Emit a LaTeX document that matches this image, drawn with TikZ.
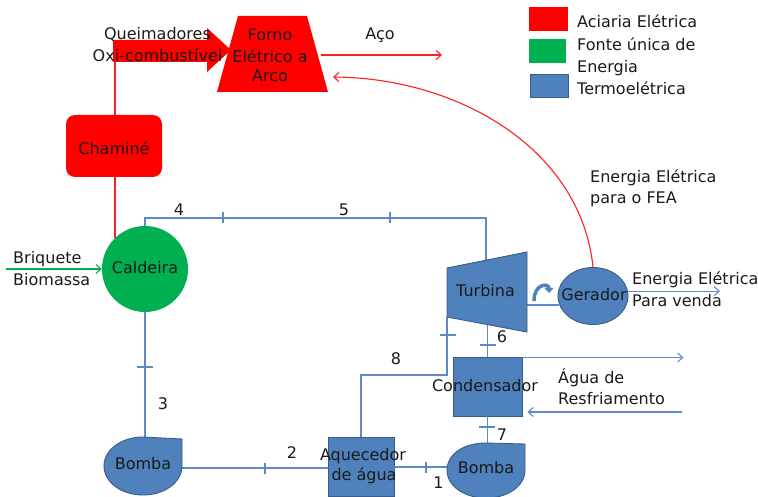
\documentclass[tikz,border=0pt]{standalone}
\usepackage{fontspec}
\setmainfont{DejaVu Sans}
\usetikzlibrary{shapes.geometric,arrows.meta,calc}
\definecolor{redF}{HTML}{FF0000}
\definecolor{greenF}{HTML}{00B050}
\definecolor{blueF}{HTML}{4F81BD}
\definecolor{blueD}{HTML}{385D8A}
\definecolor{lineB}{HTML}{5B8AC6}
\definecolor{lineR}{HTML}{FF2020}
\definecolor{txtC}{HTML}{1A1A1A}
\begin{document}
\begin{tikzpicture}[x=1pt,y=-1pt,
  font=\fontsize{16}{19}\selectfont,
  bline/.style={draw=lineB, line width=1.1pt},
  rline/.style={draw=lineR, line width=1.1pt},
  gline/.style={draw=greenF, line width=1.1pt},
  arrowend/.style={-{Straight Barb[length=5pt,width=9pt]}},
  txt/.style={anchor=base, inner sep=0pt, text=txtC},
  ltxt/.style={anchor=base west, inner sep=0pt, text=txtC},
  bshape/.style={fill=blueF, draw=blueD, line width=0.9pt},
  vtick/.pic={\draw[bline] (0,-5.5) -- (0,5.5);},
  htick/.pic={\draw[bline] (-8,0) -- (8,0);}]
\useasboundingbox (0,0) rectangle (758,497);

% ---------- legend ----------
\node[fill=redF, minimum width=39pt, minimum height=24pt, inner sep=0pt, anchor=north west] (legR) at (529,7) {};
\node[fill=greenF, minimum width=37pt, minimum height=24pt, inner sep=0pt, anchor=north west] (legG) at (529,39) {};
\node[bshape, minimum width=38pt, minimum height=23pt, inner sep=0pt, anchor=north west] (legB) at (530,74.5) {};
\node[ltxt] (legRt) at (577,28) {Aciaria Elétrica};
\node[ltxt] (legGt) at (577,51) {Fonte única de};
\node[ltxt] (legGt2) at (577,73) {Energia};
\node[ltxt] (legBt) at (577,95) {Termoelétrica};

% ---------- coordinates ----------
\coordinate (qbase) at (115,62);
\coordinate (k4) at (145,218);
\coordinate (k5) at (486,218);
\coordinate (turbIn) at (486,260);
\coordinate (t8) at (447,317);
\coordinate (k8a) at (447,375);
\coordinate (k8b) at (361,375);
\coordinate (turbR) at (527,305);
\coordinate (bLtop) at (145,437);
\coordinate (bLr) at (182,468);
\coordinate (bRtop) at (487.5,443);
\coordinate (bRl) at (448,467);
\coordinate (fornoOut) at (321,55);
\coordinate (acoEnd) at (442,55);
\coordinate (fornoIn) at (333,77);
\coordinate (bq) at (6,269);
\coordinate (wIn) at (682,412);

% ---------- shape nodes ----------
\node[circle, fill=greenF, minimum size=86pt, inner sep=0pt] (caldeira) at (145,269) {};
\node[ellipse, bshape, minimum width=70pt, minimum height=57pt, inner sep=0pt] (gerador) at (593,296) {};
\node[rectangle, bshape, minimum width=69pt, minimum height=59pt, inner sep=0pt] (cond) at (487.5,386.5) {};
\node[rectangle, bshape, minimum width=66pt, minimum height=59pt, inner sep=0pt] (aquec) at (361,466.5) {};

% ---------- connectors (behind) ----------
\draw[rline] (qbase) -- (qbase |- caldeira.135);
\node[rectangle, rounded corners=9pt, fill=redF, minimum width=96pt, minimum height=62pt, inner sep=0pt] (chamine) at (114,146) {};

\draw[bline] (caldeira.north) -- (k4) -- (k5) -- (turbIn);
\draw[bline] (cond.north) -- ++(0,-33);
\draw[bline] (t8) -- (k8a) -- (k8b) -- (aquec.north);
\draw[bline] (cond.south) -- (bRtop);
\draw[bline] (caldeira.south) -- (bLtop);
\draw[bline] (bLr) -- (aquec.west |- bLr);
\draw[bline] (aquec.east |- bRl) -- (bRl);
\draw[bline] (turbR) -- (turbR -| gerador.195);
\draw[bline, arrowend] (gerador.8) -- ++(92,0);
\draw[bline, arrowend] (cond.north east) ++(0,1) -- ++(161,0);
\draw[bline, arrowend] (wIn) -- ($(wIn -| cond.east)+(5,0)$);
\draw[gline, arrowend] (bq) -- (caldeira.west);
\draw[rline, arrowend] (fornoOut) -- (acoEnd);
\draw[rline, arrowend] (gerador.north) .. controls (581,150) and (460,78) .. (fornoIn);

% ---------- drawn shapes ----------
\draw[fill=redF, draw=none] (113,40) -- (207,40) -- (207,28) -- (231,50) -- (207,72) -- (207,62) -- (113,62) -- cycle;
\draw[fill=redF, draw=none] (238,16) -- (307,16) -- (328,92) -- (217,92) -- cycle;
\draw[bshape] (447,268) -- (527,252) -- (527,332) -- (447,317) -- cycle;
\draw[bshape] (143,437) -- (182,439) -- (182,466)
  .. controls (182,482) and (165,495) .. (143,495)
  .. controls (121,495) and (104,482) .. (104,466)
  .. controls (104,450) and (121,437) .. (143,437) -- cycle;
\draw[bshape] (486,443) -- (525,444) -- (525,470)
  .. controls (525,486) and (508,498) .. (486,498)
  .. controls (464,498) and (447,486) .. (447,470)
  .. controls (447,454) and (464,443) .. (486,443) -- cycle;
\draw[blueF, line width=3.5pt, -{Triangle[length=5pt,width=9pt]}] (534,301) .. controls (534,283) and (549,283) .. (549,293);

% ---------- ticks ----------
\pic at (223,218) {vtick};
\pic at (390,218) {vtick};
\pic at (145,367) {htick};
\pic at (265,468) {vtick};
\pic at (426,467) {vtick};
\pic at (448,335) {htick};
\pic at (488,345) {htick};
\pic at (487,427) {htick};

% ---------- texts ----------
\node[txt] (queim1) at (157.5,40) {Queimadores};
\node[txt] (queim2) at (157.5,62) {Oxi-combustível};
\node[txt] (forno1) at (270,41) {Forno};
\node[txt] (forno2) at (270,63) {Elétrico a};
\node[txt] (forno3) at (270,82) {Arco};
\node[txt] (aco) at (380,40) {Aço};
\node[txt] (chamT) at (114,155) {Chaminé};
\node[ltxt] (fea1) at (590,183) {Energia Elétrica};
\node[ltxt] (fea2) at (590,204) {para o FEA};
\node[txt] (n4) at (179,216) {4};
\node[txt] (n5) at (344,216) {5};
\node[ltxt] (briq1) at (13,264) {Briquete};
\node[ltxt] (briq2) at (13,285) {Biomassa};
\node[txt] (caldT) at (145,274) {Caldeira};
\node[txt] (turbT) at (485.5,296) {Turbina};
\node[txt] (gerT) at (594,300) {Gerador};
\node[ltxt] (venda1) at (632,284) {Energia Elétrica};
\node[ltxt] (venda2) at (632,306) {Para venda};
\node[txt] (n6) at (502,342) {6};
\node[txt] (n8) at (396,364) {8};
\node[txt] (condT) at (485,391) {Condensador};
\node[ltxt] (agua1) at (558,383) {Água de};
\node[ltxt] (agua2) at (558,404) {Resfriamento};
\node[txt] (n7) at (502,440) {7};
\node[txt] (bRT) at (486,473) {Bomba};
\node[txt] (n1) at (438.5,488) {1};
\node[txt] (n3) at (163,409) {3};
\node[txt] (n2) at (292,458) {2};
\node[txt] (aqT1) at (363,460) {Aquecedor};
\node[txt] (aqT2) at (364,480) {de água};
\node[txt] (bLT) at (143,469) {Bomba};
\end{tikzpicture}
\end{document}
